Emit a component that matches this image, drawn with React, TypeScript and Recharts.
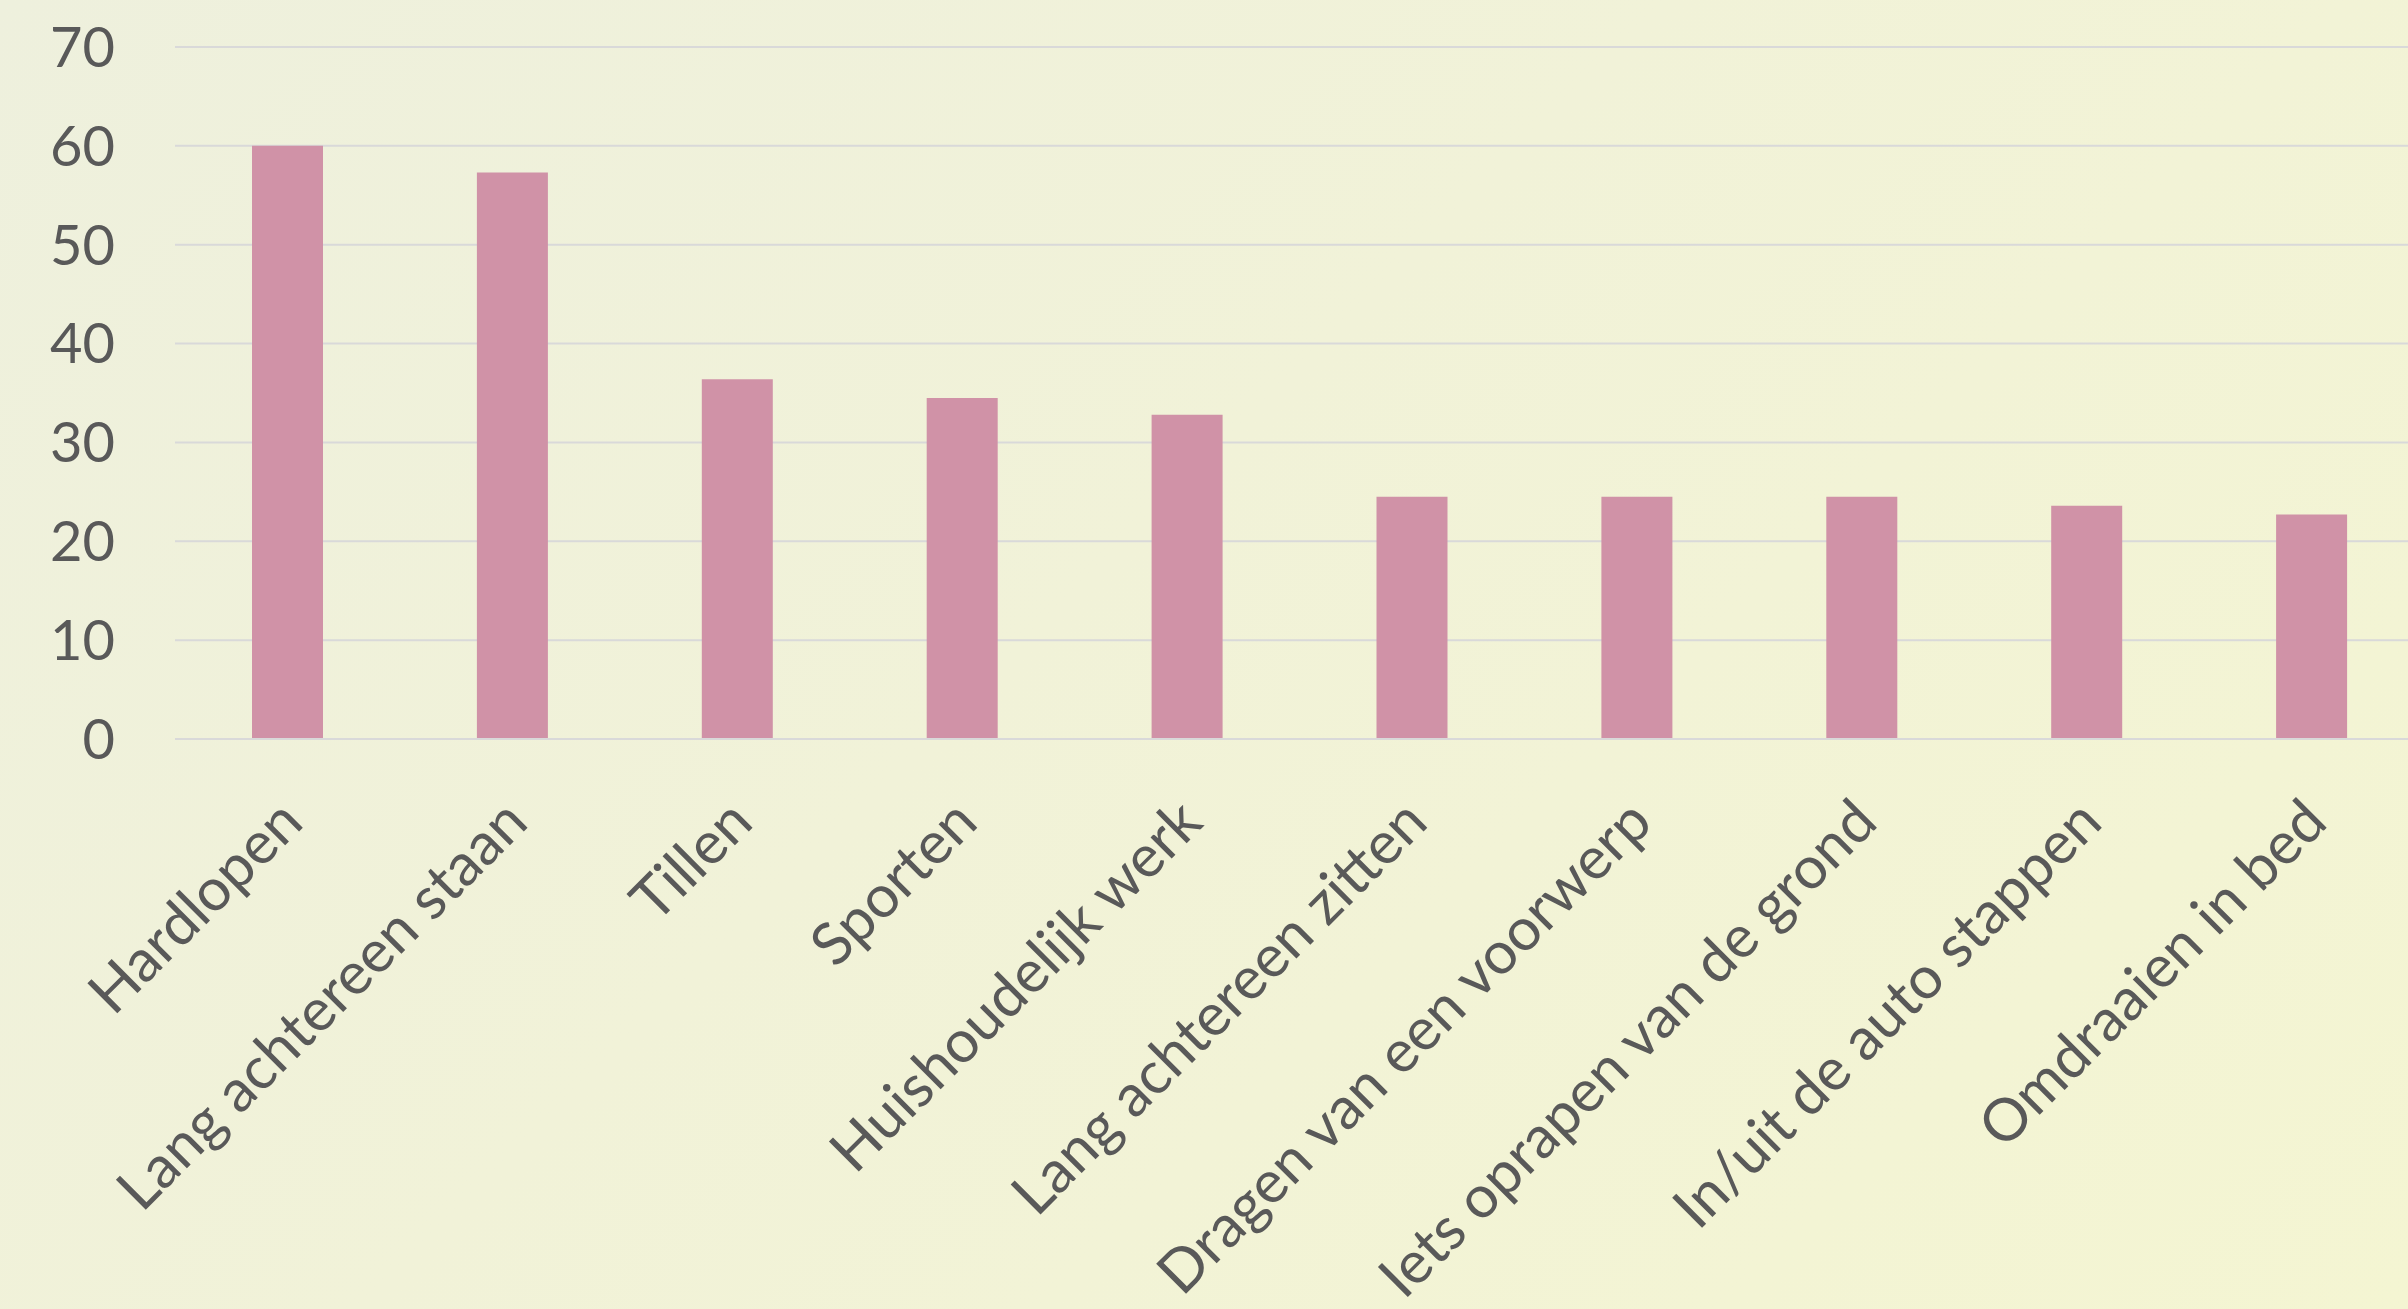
import React from "react";
import { BarChart, Bar, XAxis, YAxis, CartesianGrid } from "recharts";

// categories and percentages
const categories = [
  "Hardlopen",
  "Lang achtereen staan",
  "Tillen",
  "Sporten",
  "Huishoudelijk werk",
  "Lang achtereen zitten",
  "Dragen van een voorwerp",
  "Iets oprapen van de grond",
  "In/uit de auto stappen",
  "Omdraaien in bed",
];
const values = [60, 57.3, 36.4, 34.5, 32.8, 24.5, 24.5, 24.5, 23.6, 22.7];
const yTicks = [0, 10, 20, 30, 40, 50, 60, 70];

const data = categories.map((name, i) => ({ name, value: values[i] }));

const textColor = "#595959";
const font = "Lato, 'Open Sans', sans-serif";

const XTick = (props: any) => {
  const { x, y, payload } = props;
  return (
    <g transform={`translate(${x + 18},${y + 86})`}>
      <text
        x={0}
        y={0}
        textAnchor="end"
        transform="rotate(-45)"
        fill={textColor}
        fontSize={59}
        fontFamily={font}
      >
        {payload.value}
      </text>
    </g>
  );
};

export default function App() {
  return (
    <div
      style={{
        position: "fixed",
        top: 0,
        left: 0,
        width: 2408,
        height: 1309,
        overflow: "hidden",
        background: "linear-gradient(135deg, #eef0dd 0%, #f1f2d8 45%, #f4f5d2 100%)",
      }}
    >
      <BarChart
        width={2424}
        height={1309}
        data={data}
        margin={{ top: 47, right: 0, left: 0, bottom: 0 }}
      >
        <CartesianGrid vertical={false} stroke="#d9d9d9" strokeWidth={2} />
        <XAxis
          dataKey="name"
          interval={0}
          height={570}
          tickLine={false}
          tickSize={0}
          tickMargin={0}
          axisLine={{ stroke: "#d9d9d9", strokeWidth: 2 }}
          tick={<XTick />}
        />
        <YAxis
          width={175}
          domain={[0, 70]}
          ticks={yTicks}
          axisLine={false}
          tickLine={false}
          tickSize={0}
          tickMargin={60}
          tick={{ fill: textColor, fontSize: 56, fontFamily: font }}
        />
        <Bar dataKey="value" fill="#d092a7" barSize={71} isAnimationActive={false} />
      </BarChart>
    </div>
  );
}
